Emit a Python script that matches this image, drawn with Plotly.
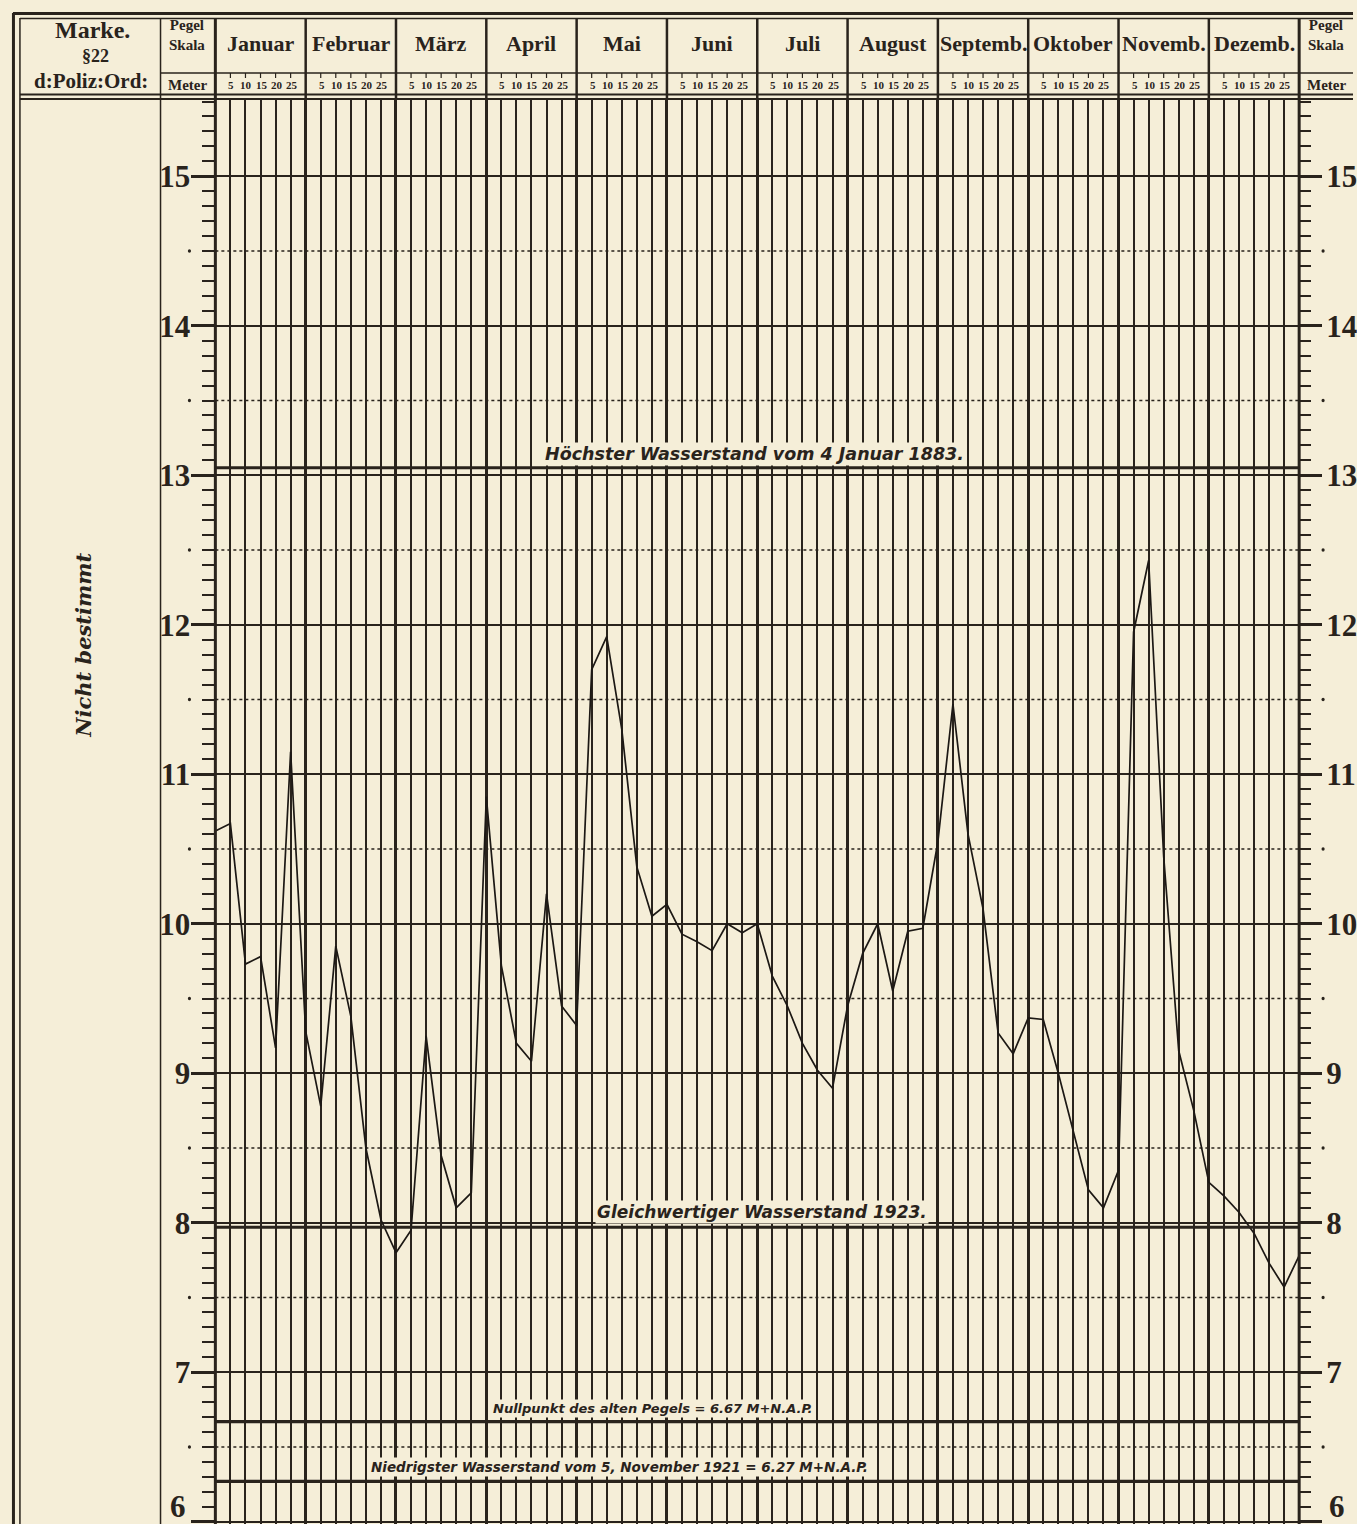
import plotly.graph_objects as go

# ---------------- data ----------------
months = ["Januar", "Februar", "März", "April", "Mai", "Juni", "Juli",
          "August", "Septemb.", "Oktober", "Novemb.", "Dezemb."]
sub_days = ["5", "10", "15", "20", "25"]
meter_ticks = [6, 7, 8, 9, 10, 11, 12, 13, 14, 15]

# water level (m) read at day 1, 5, 10, 15, 20, 25 of every month, plus 31 Dec
w_jan = [10.62, 10.67, 9.73, 9.78, 9.17, 11.15]
w_feb = [9.28, 8.78, 9.85, 9.38, 8.50, 8.02]
w_mar = [7.80, 7.95, 9.25, 8.45, 8.10, 8.20]
w_apr = [10.85, 9.72, 9.20, 9.08, 10.20, 9.45]
w_mai = [9.32, 11.70, 11.92, 11.30, 10.38, 10.05]
w_jun = [10.13, 9.93, 9.88, 9.82, 10.00, 9.94]
w_jul = [10.00, 9.65, 9.45, 9.20, 9.02, 8.90]
w_aug = [9.45, 9.80, 10.00, 9.55, 9.95, 9.97]
w_sep = [10.55, 11.47, 10.60, 10.10, 9.27, 9.13]
w_okt = [9.37, 9.36, 9.00, 8.60, 8.22, 8.10]
w_nov = [8.35, 11.95, 12.43, 10.45, 9.15, 8.75]
w_dez = [8.27, 8.18, 8.07, 7.93, 7.73, 7.57]
w_end = [7.78]

ref_levels = [13.05, 7.97, 6.67, 6.27]
ref_labels = ["Höchster Wasserstand vom 4 Januar 1883.",
              "Gleichwertiger Wasserstand 1923.",
              "Nullpunkt des alten Pegels = 6.67 M+N.A.P.",
              "Niedrigster Wasserstand vom 5, November 1921 = 6.27 M+N.A.P."]

# ---------------- build ----------------
W, H = 1357, 1524
BG = "#F5EED8"
INK = "#29231c"

series = w_jan + w_feb + w_mar + w_apr + w_mai + w_jun + w_jul + w_aug + w_sep + w_okt + w_nov + w_dez + w_end
xs = [m + k / 6 for m in range(12) for k in range(6)] + [12]

def PX(p):
    return p / W

def PY(p):
    return 1 - p / H

X0, X1 = 216, 1303
Y_TOP = 100

fig = go.Figure()
fig.add_trace(go.Scatter(x=xs, y=series, mode="lines",
                         line=dict(color="#1c1814", width=1.7),
                         hoverinfo="skip", showlegend=False))
fig.add_trace(go.Scatter(x=xs, y=series, mode="lines", yaxis="y2",
                         line=dict(color="rgba(0,0,0,0)", width=1),
                         hoverinfo="skip", showlegend=False))

minor_x = [m + k / 6 for m in range(12) for k in range(1, 6)]
minor_y = [round(6 + i * 0.1, 1) for i in range(96) if i % 10 != 0]

tickfont = dict(family="Liberation Serif", size=31, color=INK, weight="bold")
YR = [5.985, 15.51]

fig.update_layout(
    width=W, height=H,
    margin=dict(l=0, r=0, t=0, b=0),
    paper_bgcolor=BG, plot_bgcolor=BG,
    showlegend=False,
    xaxis=dict(domain=[PX(X0), PX(X1)], range=[0, 12],
               tickmode="array", tickvals=list(range(13)),
               showticklabels=False, ticks="",
               showgrid=True, gridcolor=INK, gridwidth=2.6,
               zeroline=False, showline=False,
               minor=dict(tickmode="array", tickvals=minor_x, showgrid=True,
                          gridcolor=INK, gridwidth=1.6, ticks="")),
    yaxis=dict(domain=[0, PY(Y_TOP)], range=YR,
               tickmode="array", tickvals=meter_ticks,
               ticks="outside", ticklen=23, tickwidth=3, tickcolor=INK,
               tickfont=tickfont, ticklabelstandoff=-5,
               showgrid=True, gridcolor=INK, gridwidth=1.8,
               zeroline=False, showline=False,
               minor=dict(tickmode="array", tickvals=minor_y, ticks="outside",
                          ticklen=12, tickwidth=2.4, tickcolor=INK, showgrid=False)),
    yaxis2=dict(overlaying="y", side="right", anchor="x", range=YR,
                tickmode="array", tickvals=meter_ticks,
                ticks="outside", ticklen=22, tickwidth=3, tickcolor=INK,
                tickfont=tickfont, ticklabelstandoff=-2,
                showgrid=False, zeroline=False, showline=False,
                minor=dict(tickmode="array", tickvals=minor_y, ticks="outside",
                           ticklen=11, tickwidth=2.4, tickcolor=INK, showgrid=False)),
)

shapes = []

def pline(x0, y0, x1, y1, w, dash=None):
    d = dict(type="line", xref="paper", yref="paper",
             x0=PX(x0), y0=PY(y0), x1=PX(x1), y1=PY(y1),
             line=dict(color=INK, width=w))
    if dash:
        d["line"]["dash"] = dash
    shapes.append(d)

# outer frame (double)
pline(13, 13.5, W, 13.5, 3)
pline(20, 18.5, W, 18.5, 1.5)
pline(13.5, 13, 13.5, H, 3)
pline(20, 18, 20, H, 1.5)
# header rows
pline(161, 73, W, 73, 1.5)
pline(20, 94.5, W, 94.5, 2)
pline(20, 99, W, 99, 2)
# column separators
pline(161, 18, 161, H, 1.5)
pline(X0, 18, X0, H, 3)
pline(X1, 18, X1, H, 3)

# month boundaries through the header
for m in range(1, 12):
    shapes.append(dict(type="line", xref="x", yref="paper", x0=m, x1=m,
                       y0=PY(18), y1=PY(Y_TOP), line=dict(color=INK, width=2.5)))
# small marks on top of the sub-header row
for v in minor_x:
    shapes.append(dict(type="line", xref="x", yref="paper", x0=v, x1=v,
                       y0=PY(73), y1=PY(78), line=dict(color=INK, width=1.2)))

# half-meter dotted lines
for i in range(6, 15):
    hv = i + 0.5
    shapes.append(dict(type="line", xref="x", yref="y", x0=0, x1=12, y0=hv, y1=hv,
                       line=dict(color=INK, width=1.3, dash="dot"), layer="below"))
    for cx in (190, 1327):
        shapes.append(dict(type="circle", xref="paper", yref="y",
                           x0=PX(cx - 1.6), x1=PX(cx + 1.6), y0=hv - 0.011, y1=hv + 0.011,
                           fillcolor=INK, line=dict(width=0)))

# reference levels
for lv in ref_levels:
    shapes.append(dict(type="line", xref="x", yref="y", x0=0, x1=12, y0=lv, y1=lv,
                       line=dict(color=INK, width=3.2)))

fig.update_layout(shapes=shapes)

ann = []
serif = "Liberation Serif"

def text(xp, yp, s, size, weight="normal", style="normal", family=serif, **kw):
    d = dict(xref="paper", yref="paper", x=PX(xp), y=PY(yp), text=s, showarrow=False,
             font=dict(family=family, size=size, color=INK, weight=weight, style=style),
             xanchor="center", yanchor="middle")
    d.update(kw)
    ann.append(d)

# left column header
text(93, 30, "Marke.", 24, weight="bold")
text(96, 56, "§22", 18, weight="bold")
text(91, 81, "d:Poliz:Ord:", 21, weight="bold")
# Pegel Skala columns
for cx in (188, 1330):
    text(cx, 35, "Pegel<br>Skala", 15, weight="bold")
    text(cx, 85, "Meter", 15, weight="bold")

# month names and day numbers
for m, name in enumerate(months):
    ann.append(dict(xref="x", yref="paper", x=m + 0.5, y=PY(44), text=name, showarrow=False,
                    font=dict(family=serif, size=22, color=INK, weight="bold"),
                    xanchor="center", yanchor="middle"))
    for k, dlab in enumerate(sub_days):
        ann.append(dict(xref="x", yref="paper", x=m + (k + 1) / 6, y=PY(85), text=dlab,
                        showarrow=False, xshift=1,
                        font=dict(family=serif, size=11, color=INK, weight="bold"),
                        xanchor="center", yanchor="middle"))

# lowest scale value sits on the cut-off edge of the sheet: keep its label inside the page
for xp, anc in ((189, "right"), (1331, "left")):
    ann.append(dict(xref="paper", yref="y", x=PX(xp), y=meter_ticks[0], text=str(meter_ticks[0]),
                    showarrow=False, xanchor=anc, yanchor="bottom", yshift=-4,
                    font=tickfont))

# vertical note
text(83, 645, "Nicht bestimmt", 21, weight="bold", style="italic",
     family="DejaVu Serif", textangle=-90)

# labels of reference levels
lab_pos = [(5.97, 17.5, 2), (6.05, 17, 3), (4.85, 13, 4), (4.47, 13.5, 4)]
for lv, lab, (cx, fs, ys) in zip(ref_levels, ref_labels, lab_pos):
    ann.append(dict(xref="x", yref="y", x=cx, y=lv, text=lab, showarrow=False,
                    yshift=ys, xanchor="center", yanchor="bottom",
                    bgcolor=BG, borderpad=1,
                    font=dict(family="DejaVu Sans", size=fs, color=INK,
                              weight="bold", style="italic")))

fig.update_layout(annotations=ann)

fig.write_html("out.html", config={"displayModeBar": False},
               post_script="document.body.style.margin='0';document.body.style.overflow='hidden';")
